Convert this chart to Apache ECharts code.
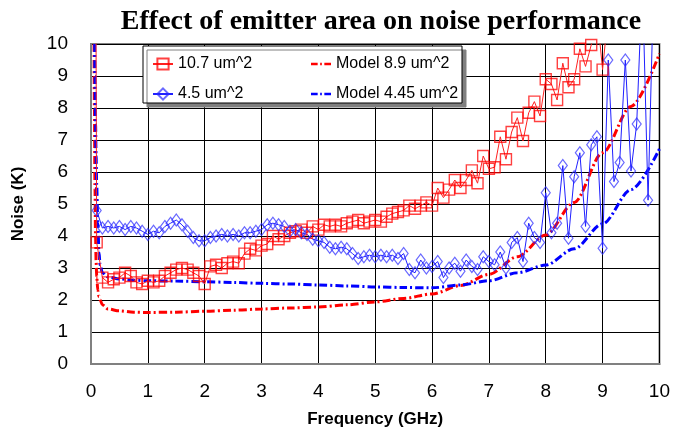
<!DOCTYPE html>
<html>
<head>
<meta charset="utf-8">
<title>Emitter area noise</title>
<script src="https://cdn.jsdelivr.net/npm/echarts@6/dist/echarts.min.js"></script>
</head>
<body style="margin:0">
<div id="main" style="width: 673px; height: 435px;"></div>
<script type="text/javascript">
// measured noise, 10.7 um^2 device (first/last points run off the top)
var redFreq = [0.08, 0.1, 0.2, 0.3, 0.4, 0.5, 0.6, 0.7, 0.8, 0.9,
  1.0, 1.1, 1.2, 1.3, 1.4, 1.5, 1.6, 1.7, 1.8, 1.9,
  2.0, 2.1, 2.2, 2.3, 2.4, 2.5, 2.6, 2.7, 2.8, 2.9,
  3.0, 3.1, 3.2, 3.3, 3.4, 3.5, 3.6, 3.7, 3.8, 3.9,
  4.0, 4.1, 4.2, 4.3, 4.4, 4.5, 4.6, 4.7, 4.8, 4.9,
  5.0, 5.1, 5.2, 5.3, 5.4, 5.5, 5.6, 5.7, 5.8, 5.9,
  6.0, 6.1, 6.2, 6.3, 6.4, 6.5, 6.6, 6.7, 6.8, 6.9,
  7.0, 7.1, 7.2, 7.3, 7.4, 7.5, 7.6, 7.7, 7.8, 7.9,
  8.0, 8.1, 8.2, 8.3, 8.4, 8.5, 8.6, 8.7, 8.8, 8.9,
  9.0, 9.1];
var redNoise = [15, 3.8, 2.7, 2.55, 2.65, 2.7, 2.85, 2.75, 2.55, 2.5,
  2.6, 2.55, 2.6, 2.75, 2.85, 2.95, 3.0, 2.95, 2.85, 2.75,
  2.5, 3.05, 3.1, 3.0, 3.15, 3.2, 3.15, 3.45, 3.6, 3.55,
  3.7, 3.75, 4.0, 3.9, 4.0, 4.1, 4.15, 4.2, 4.1, 4.3,
  4.2, 4.35, 4.3, 4.35, 4.3, 4.4, 4.45, 4.5, 4.4, 4.45,
  4.5, 4.45, 4.6, 4.7, 4.75, 4.8, 4.95, 4.85, 4.95, 5.05,
  4.95, 5.5, 5.2, 5.45, 5.75, 5.5, 5.75, 6.05, 5.65, 6.5,
  6.1, 6.15, 7.1, 6.4, 7.25, 7.7, 6.97, 7.85, 8.2, 7.75,
  8.9, 8.75, 8.25, 9.4, 8.65, 8.9, 9.85, 9.3, 9.97, 11,
  9.2, 11];

// measured noise, 4.5 um^2 device
var blueFreq = [0.1, 0.2, 0.3, 0.4, 0.5, 0.6, 0.7, 0.8, 0.9,
  1.0, 1.1, 1.2, 1.3, 1.4, 1.5, 1.6, 1.7, 1.8, 1.9,
  2.0, 2.1, 2.2, 2.3, 2.4, 2.5, 2.6, 2.7, 2.8, 2.9,
  3.0, 3.1, 3.2, 3.3, 3.4, 3.5, 3.6, 3.7, 3.8, 3.9,
  4.0, 4.1, 4.2, 4.3, 4.4, 4.5, 4.6, 4.7, 4.8, 4.9,
  5.0, 5.1, 5.2, 5.3, 5.4, 5.5, 5.6, 5.7, 5.8, 5.9,
  6.0, 6.1, 6.2, 6.3, 6.4, 6.5, 6.6, 6.7, 6.8, 6.9,
  7.0, 7.1, 7.2, 7.3, 7.4, 7.5, 7.6, 7.7, 7.8, 7.9,
  8.0, 8.1, 8.2, 8.3, 8.4, 8.5, 8.6, 8.7, 8.8, 8.9,
  9.0, 9.1, 9.2, 9.3, 9.4, 9.5, 9.6, 9.7, 9.8, 9.9];
var blueNoise = [4.8, 4.25, 4.3, 4.25, 4.3, 4.2, 4.3, 4.25, 4.15,
  4.05, 4.15, 4.1, 4.3, 4.4, 4.5, 4.35, 4.15, 3.95, 3.85,
  3.85, 3.95, 4.0, 4.05, 4.0, 4.05, 4.0, 4.1, 4.1, 4.15,
  4.2, 4.35, 4.4, 4.35, 4.3, 4.15, 4.2, 4.1, 4.05, 3.9,
  3.85, 3.8, 3.65, 3.6, 3.65, 3.6, 3.45, 3.3, 3.35, 3.4,
  3.35, 3.4, 3.35, 3.4, 3.3, 3.45, 2.95, 2.85, 3.25, 3.0,
  3.05, 3.2, 2.7, 3.0, 3.15, 2.9, 3.25, 3.05, 2.95, 3.35,
  3.2, 3.1, 3.5, 3.0, 3.8, 3.95, 3.2, 4.4, 3.95, 3.8,
  5.35, 4.1, 4.4, 6.2, 3.93, 5.85, 6.6, 4.3, 6.85, 7.1,
  3.62, 9.5, 5.7, 6.3, 9.5, 6.03, 7.5, 12, 5.12, 12];

// model curves
var modelFreq = [0.03, 0.05, 0.06, 0.07, 0.08, 0.09, 0.1, 0.12, 0.14, 0.16, 0.2, 0.3, 0.5, 0.75,
  1, 1.5, 2, 2.5, 3, 3.5, 4, 4.5, 5, 5.5, 6, 6.5, 7, 7.5, 8, 8.5, 9, 9.5, 10];
var model89 = [30, 11, 8, 5.5, 4.0, 3.2, 2.75, 2.3, 2.1, 2.0, 1.85, 1.72, 1.66, 1.62,
  1.61, 1.62, 1.65, 1.68, 1.72, 1.75, 1.78, 1.85, 1.94, 2.05, 2.19, 2.45, 2.8, 3.35, 4.03, 5.05, 6.6, 8.05, 9.7];
var model445 = [40, 14, 11, 9, 7.5, 6.5, 5.6, 4.4, 3.5, 3.1, 2.85, 2.72, 2.66, 2.62,
  2.6, 2.59, 2.57, 2.55, 2.52, 2.5, 2.47, 2.44, 2.41, 2.39, 2.38, 2.47, 2.6, 2.85, 3.09, 3.6, 4.38, 5.45, 6.72];

var seriesNames = ['10.7 um^2', '4.5 um^2', 'Model 8.9 um^2', 'Model 4.45 um^2'];

function pairs(xs, ys) {
  return xs.map(function (x, i) { return [x, ys[i]]; });
}

var font = 'Liberation Sans, Arial, sans-serif';
var dashDot = [8, 3, 2, 3];
// legend sample for the model curves: a short dash-dot bar
var dashDotIcon = 'path://M0,0h8v3h-8z M11,0h2v3h-2z M16,0h8v3h-8z';
var chart = echarts.init(document.getElementById('main'));

var option = {
  animation: false,
  backgroundColor: '#fff',
  title: {
    text: 'Effect of emitter area on noise performance',
    left: 376,
    textAlign: 'center',
    top: 3,
    textStyle: { fontFamily: 'Liberation Serif, Times New Roman, serif', fontWeight: 'bold', fontSize: 28, color: '#000' }
  },
  grid: { left: 91, right: 12, top: 44, bottom: 71, show: true, borderColor: '#808080', borderWidth: 2 },
  graphic: [{
    type: 'rect', z: 3,
    shape: { x: 143, y: 46, width: 319, height: 57 },
    style: { fill: '#fff', stroke: '#000', lineWidth: 1, shadowColor: '#808080', shadowOffsetX: 4, shadowOffsetY: 4, shadowBlur: 0 }
  }],
  legend: [{
    left: 147, top: 51, orient: 'vertical', itemGap: 14, itemWidth: 20, itemHeight: 14,
    data: [seriesNames[0], seriesNames[1]],
    textStyle: { fontFamily: font, fontSize: 16, color: '#000' }
  }, {
    left: 306, top: 51, orient: 'vertical', itemGap: 14, itemWidth: 20, itemHeight: 14,
    data: [{ name: seriesNames[2], icon: dashDotIcon }, { name: seriesNames[3], icon: dashDotIcon }],
    textStyle: { fontFamily: font, fontSize: 16, color: '#000' }
  }],
  xAxis: {
    type: 'value', min: 0, max: 10, interval: 1,
    name: 'Frequency (GHz)', nameLocation: 'middle', nameGap: 47,
    nameTextStyle: { fontFamily: font, fontWeight: 'bold', fontSize: 17, color: '#000' },
    axisLine: { lineStyle: { color: '#808080', width: 2 } },
    axisTick: { show: false },
    axisLabel: { margin: 18, fontFamily: font, fontSize: 19, color: '#000' },
    splitLine: { lineStyle: { color: '#000', width: 1 } }
  },
  yAxis: {
    type: 'value', min: 0, max: 10, interval: 1,
    name: 'Noise (K)', nameLocation: 'middle', nameGap: 64,
    nameTextStyle: { fontFamily: font, fontWeight: 'bold', fontSize: 17, color: '#000' },
    axisLine: { show: true, lineStyle: { color: '#808080', width: 2 } },
    axisTick: { show: false },
    axisLabel: { margin: 23, fontFamily: font, fontSize: 19, color: '#000' },
    splitLine: { lineStyle: { color: '#000', width: 1 } }
  },
  series: [{
    name: seriesNames[0], type: 'line', z: 3,
    data: pairs(redFreq, redNoise),
    symbol: 'rect', symbolSize: 11,
    lineStyle: { color: '#ff2020', width: 1 },
    itemStyle: { color: 'rgba(255,255,255,0)', borderColor: 'rgba(255,0,0,0.75)', borderWidth: 1.4 }
  }, {
    name: seriesNames[1], type: 'line', z: 3,
    data: pairs(blueFreq, blueNoise),
    symbol: 'diamond', symbolSize: [9, 12],
    lineStyle: { color: '#2020ff', width: 1 },
    itemStyle: { color: 'rgba(255,255,255,0)', borderColor: 'rgba(40,40,255,0.7)', borderWidth: 1.2 }
  }, {
    name: seriesNames[2], type: 'line', z: 2,
    data: pairs(modelFreq, model89),
    symbol: 'none', smooth: 0.3, smoothMonotone: 'x',
    itemStyle: { color: '#ff0000' },
    lineStyle: { color: '#ff0000', width: 3, type: dashDot }
  }, {
    name: seriesNames[3], type: 'line', z: 2,
    data: pairs(modelFreq, model445),
    symbol: 'none', smooth: 0.3, smoothMonotone: 'x',
    itemStyle: { color: '#0000ff' },
    lineStyle: { color: '#0000ff', width: 3, type: dashDot }
  }]
};
chart.setOption(option);
</script>
</body>
</html>
